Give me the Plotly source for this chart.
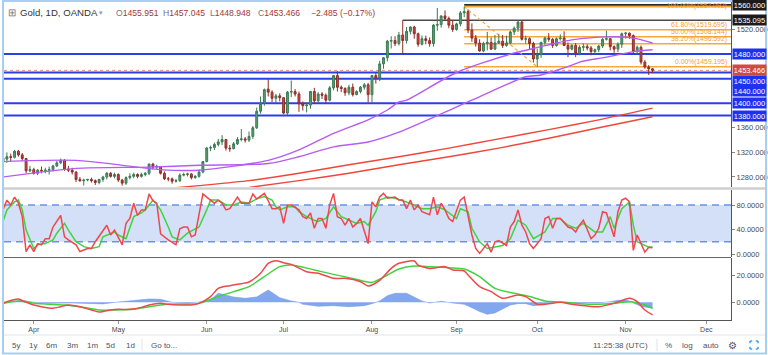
import pandas as pd
import plotly.graph_objects as go

# ---------------- data ----------------
dates = pd.bdate_range("2019-03-20", "2019-11-12")

opens = [1306,1309,1313,1312,1322,1316,1310,1290,1292,1286,
         1291,1290,1291,1292,1298,1303,1307,1293,1291,1288,
         1276,1274,1275,1276,1274,1271,1276,1280,1286,1281,
         1284,1275,1270,1279,1281,1284,1281,1284,1286,1301,
         1296,1297,1286,1277,1277,1273,1274,1283,1284,1285,
         1279,1281,1288,1305,1327,1328,1333,1337,1341,1327,
         1326,1334,1341,1342,1340,1346,1360,1387,1400,1423,
         1418,1408,1412,1409,1384,1418,1419,1415,1399,1396,
         1397,1419,1404,1415,1413,1405,1425,1445,1426,1424,
         1417,1426,1414,1419,1426,1430,1414,1445,1441,1464,
         1474,1501,1502,1497,1511,1502,1517,1524,1513,1496,
         1505,1502,1497,1527,1528,1542,1538,1527,1520,1529,
         1547,1549,1519,1506,1498,1485,1497,1499,1488,1498,
         1501,1494,1498,1516,1522,1532,1504,1505,1497,1472,
         1479,1499,1506,1504,1494,1505,1506,1494,1488,1494,
         1481,1491,1492,1490,1484,1487,1493,1504,1505,1492,
         1488,1496,1513,1514,1510,1484,1491,1467,1459,1455.951]
highs = [1312,1320,1318,1324,1324,1319,1311,1298,1295,1293,
         1297,1295,1297,1300,1306,1310,1309,1298,1295,1289,
         1280,1277,1277,1279,1276,1277,1282,1288,1288,1287,
         1286,1277,1281,1286,1287,1286,1287,1288,1302,1303,
         1300,1298,1289,1280,1279,1277,1286,1287,1287,1286,
         1283,1292,1306,1329,1331,1336,1342,1348,1342,1332,
         1337,1345,1358,1345,1354,1363,1393,1411,1424,1439,
         1421,1415,1416,1410,1420,1437,1423,1419,1403,1402,
         1420,1425,1418,1418,1416,1428,1446,1452,1429,1426,
         1430,1432,1421,1428,1433,1433,1446,1449,1469,1475,
         1503,1509,1509,1516,1535,1524,1525,1526,1515,1510,
         1510,1507,1529,1555,1543,1551,1541,1535,1531,1550,
         1557.09,1553,1530,1511,1504,1500,1516,1507,1511,1513,
         1511,1510,1518,1525,1535,1534,1510,1507,1500,1489,
         1500,1508,1514,1506,1507,1512,1517,1499,1496,1498,
         1494,1497,1496,1493,1489,1495,1506,1518,1506,1494,
         1499,1515,1516,1515,1512,1494,1494,1470,1462,1457.045]
lows = [1301,1303,1305,1310,1313,1306,1286,1288,1284,1283,
        1286,1286,1284,1289,1296,1301,1290,1288,1284,1272,
        1272,1266,1273,1271,1267,1268,1272,1276,1279,1278,
        1272,1266,1267,1276,1278,1278,1279,1281,1283,1292,
        1292,1284,1275,1273,1269,1271,1272,1281,1281,1276,
        1277,1279,1286,1304,1322,1324,1330,1332,1323,1321,
        1325,1332,1338,1336,1337,1342,1358,1383,1396,1411,
        1402,1400,1403,1382,1381,1410,1411,1386,1388,1385,
        1391,1400,1401,1407,1400,1403,1421,1419,1418,1412,
        1413,1411,1413,1416,1422,1401,1400,1432,1436,1456,
        1468,1489,1493,1494,1480,1497,1512,1505,1492,1494,
        1496,1492,1492,1518,1523,1535,1522,1516,1518,1525,
        1540,1514,1500,1492,1484,1483,1486,1487,1487,1497,
        1490,1492,1496,1511,1516,1502,1497,1487,1466,1459.195,
        1474,1495,1500,1490,1492,1502,1493,1475,1486,1475,
        1478,1485,1486,1478,1480,1483,1490,1502,1486,1482,
        1483,1490,1505,1505,1480,1479,1463,1456,1446,1448.948]
closes = [1311,1313,1312,1322,1316,1310,1290,1292,1286,1291,
          1290,1291,1292,1298,1303,1307,1293,1291,1288,1276,
          1274,1275,1276,1274,1271,1276,1280,1286,1281,1284,
          1275,1270,1279,1281,1284,1281,1284,1286,1301,1296,
          1297,1286,1277,1277,1273,1274,1283,1284,1285,1279,
          1281,1288,1305,1327,1328,1333,1337,1341,1327,1326,
          1334,1341,1342,1340,1346,1360,1387,1400,1422,1418,
          1408,1412,1409,1384,1418,1419,1415,1399,1396,1397,
          1419,1404,1415,1413,1405,1425,1445,1426,1424,1417,
          1426,1414,1419,1426,1430,1414,1445,1441,1464,1474,
          1501,1502,1497,1511,1502,1517,1524,1513,1496,1505,
          1502,1497,1527,1528,1542,1538,1527,1520,1529,1547,
          1549,1519,1506,1498,1485,1497,1499,1488,1498,1501,
          1494,1498,1516,1522,1532,1504,1505,1497,1472,1479,
          1499,1506,1504,1494,1505,1506,1494,1488,1494,1481,
          1491,1492,1490,1484,1487,1493,1504,1505,1492,1488,
          1496,1513,1514,1510,1484,1491,1467,1459,1456,1453.466]

# moving averages (bar index -> value)
ma_fast_idx = [0, 19, 41, 51, 69, 77, 86, 95, 100, 103, 105, 118, 132, 140, 144, 148, 157, 164, 169]
ma_fast_val = [1305, 1307, 1292, 1291, 1307, 1324, 1351, 1373, 1389, 1402, 1405, 1450, 1480, 1492, 1498, 1503, 1508, 1506, 1498]
ma_slow_idx = [0, 19, 38, 51, 69, 77, 86, 95, 103, 122, 136, 140, 148, 150, 157, 164, 169]
ma_slow_val = [1280, 1294, 1296, 1299, 1302, 1313, 1329, 1337, 1353, 1405, 1443, 1446, 1462, 1467, 1475, 1484, 1487]
red_a_idx = [44, 51, 64, 77, 90, 103, 116, 129, 142, 155, 169]
red_a_val = [1262, 1266, 1274, 1286, 1300, 1313, 1327, 1342, 1357, 1373, 1392]
red_b_idx = [64, 77, 90, 103, 116, 129, 142, 155, 169]
red_b_val = [1263, 1274, 1286, 1300, 1313, 1327, 1343, 1360, 1378]

# stochastic
stoch_k_idx = [0,1,2,3,4,5,6,7,8,9,10,11,12,13,15,16,17,19,20,22,23,24,27,28,29,30,31,32,33,34,35,36,37,38,39,40,41,43,45,46,47,48,49,50,52,53,55,56,57,58,59,61,62,64,65,66,68,69,70,71,
               72,73,74,75,77,78,79,80,81,82,83,84,85,86,87,88,89,90,91,92,93,95,96,97,98,99,100,102,103,104,105,106,107,108,109,111,112,113,114,115,116,117,119,120,121,122,123,124,126,127,128,129,131,132,133,134,135,136,137,138,140,141,142,143,144,145,147,148,149,150,151,153,154,155,156,157,159,160,161,162,163,164,165,166,167,168,169]
stoch_k = [72,88,80,93,83,61,4,15,4,17,15,25,25,44,63,28,23,15,4,9,9,20,47,31,39,28,15,50,58,83,63,72,72,98,87,83,33,23,15,41,44,44,28,31,98,93,83,88,83,72,74,93,83,83,98,90,99,87,74,74,
           77,50,80,80,72,61,58,67,42,58,58,42,80,99,61,58,47,58,44,50,58,17,85,77,93,99,91,93,88,88,74,88,72,80,69,64,93,64,83,72,58,53,88,93,61,31,9,1,17,3,20,22,14,44,53,72,47,36,17,9,25,58,61,42,58,58,44,42,36,47,55,25,31,42,69,67,28,69,88,91,85,6,31,17,3,11,10]
stoch_d_idx = [0,1,3,4,5,6,8,9,11,13,14,16,17,19,21,23,25,26,29,30,32,33,34,36,37,39,41,43,44,46,48,50,51,53,54,56,58,60,62,64,66,68,70,71,
               72,74,76,77,79,81,82,84,86,88,90,92,94,95,97,98,100,102,105,107,109,111,113,115,118,119,121,122,124,126,128,130,132,134,136,138,141,143,145,147,149,151,154,156,158,159,161,163,164,165,167,168,169]
stoch_d = [53,72,85,88,72,39,9,15,17,23,34,50,39,20,12,9,12,28,36,31,25,44,61,67,72,88,72,44,28,23,34,41,44,72,88,88,80,80,85,83,90,94,88,77,
           72,77,77,69,61,55,53,58,77,61,55,50,53,47,69,88,93,91,85,80,74,74,77,72,58,74,69,42,20,9,11,14,25,55,47,25,36,58,58,47,42,50,36,36,61,42,74,85,47,20,14,11,12]

# MACD
macd_idx = [0,1,4,5,8,10,13,15,17,20,23,25,28,30,33,36,38,41,43,46,49,51,54,56,59,62,64,67,69,71,73,75,79,82,86,89,93,95,98,101,103,107,108,111,115,117,120,121,124,127,130,134,136,139,141,145,148,152,155,159,163,165,167,169]
macd_val = [-0.8,0.5,2.5,1.3,-2,-3.3,-4.5,-3.3,-2,-3.3,-5.8,-7.3,-5.8,-5.3,-5.3,-3.8,-2,-0.8,-1.5,-2,-2,-0.8,4.3,10.5,12.5,14,15.3,21.8,29.3,31.3,29.8,28.5,23,21.8,18,18,15.5,12.3,16.5,25.5,29.3,31,28,25.5,26.8,24.3,23.5,20.5,11.8,8,3,5.5,4.3,-1.5,-1.5,0,-1.5,-2.8,-3.3,-0.8,3,0.5,-5.8,-9.5]
signal_idx = [0,4,7,11,16,20,25,29,34,38,43,47,51,56,60,64,68,72,75,81,86,91,96,100,103,107,111,116,120,124,128,133,137,141,146,150,155,159,163,167,169]
signal_val = [-0.8,1,-0.3,-1.3,-2,-3.3,-5.8,-5.8,-5.3,-3.3,-1.5,-1.3,-0.8,4.3,8,11.8,19.3,26.8,28,24.3,21,18,15,20.5,25,27.3,26.8,26,25,19.3,10.5,6.8,4.3,1,0,-1,-1.5,-0.8,0.5,-2,-4.5]
hist_idx = [0,3,5,8,12,18,22,26,30,34,38,41,44,48,51,54,56,60,63,66,69,72,75,77,78,82,86,90,94,96,98,100,102,105,107,109,111,114,117,120,122,124,126,128,130,132,134,136,138,140,142,145,150,155,158,160,162,163,164,166,168,169]
hist_val = [0,1,1.5,0,-0.8,-0.5,-1,-1.2,0.3,1.5,2.5,2.3,0,-0.5,0.2,2,6.8,4,3,4,9.3,3.5,1,0,-1.5,-3,-2.5,-3.3,-2.5,-1,1,5,6.8,6.8,4,1,-0.5,0.8,-0.5,-1.5,-4,-7,-9,-8,-5,-2,-1,-1,-2.5,-2,-0.5,0.3,-0.3,-0.5,0.5,1.5,1.8,1,-0.5,-3,-4,-4.5]

# drawing-tool levels
blue_levels = [1480, 1450, 1440, 1400, 1380]
black_levels = [1560, 1535.095]
black_start = ["2019-09-04", "2019-08-13"]
fib_pct = ["0.00%", "38.20%", "50.00%", "61.80%", "100.00%"]
fib_price = [1459.195, 1496.592, 1508.144, 1519.695, 1557.092]
fib_start = "2019-09-04"
fib_low_date = "2019-10-01"
last_price = 1453.466
month_ticks = ["2019-04-01", "2019-05-01", "2019-06-03", "2019-07-01", "2019-08-01",
               "2019-09-02", "2019-10-01", "2019-11-01", "2019-12-02"]
month_text = ["Apr", "May", "Jun", "Jul", "Aug", "Sep", "Oct", "Nov", "Dec"]

# ---------------- layout geometry ----------------
W, H = 768, 355
L, R, T, B = 4, 37, 2, 35
PW, PH = W - L - R, H - T - B
def fx(px):
    return (px - L) / PW
def fy(py):
    return (H - B - py) / PH

X_RANGE = ["2019-03-20 06:00", "2019-12-10 10:00"]
FONT = "Liberation Sans, Arial, sans-serif"
GREEN = "#3fd43f"
RED = "#f0474d"

fig = go.Figure()

fig.add_trace(go.Candlestick(
    x=dates, open=opens, high=highs, low=lows, close=closes,
    increasing=dict(line=dict(color="#3b7a53", width=1), fillcolor="#58a273"),
    decreasing=dict(line=dict(color="#8f2c25", width=1), fillcolor="#cc4a40"),
    whiskerwidth=0, hoverinfo="skip", showlegend=False, xaxis="x", yaxis="y"))

def line_trace(idx, vals, color, width, axis_x, axis_y, spline=True):
    return go.Scatter(x=dates[idx], y=vals, mode="lines",
                      line=dict(color=color, width=width,
                                shape="spline" if spline else "linear", smoothing=0.7),
                      hoverinfo="skip", showlegend=False, xaxis=axis_x, yaxis=axis_y)

fig.add_trace(line_trace(ma_slow_idx, ma_slow_val, "#b65cf2", 1.4, "x", "y"))
fig.add_trace(line_trace(ma_fast_idx, ma_fast_val, "#b65cf2", 1.4, "x", "y"))
fig.add_trace(line_trace(red_a_idx, red_a_val, "#f2453c", 1.4, "x", "y"))
fig.add_trace(line_trace(red_b_idx, red_b_val, "#f2453c", 1.4, "x", "y"))

# stochastic
fig.add_trace(line_trace(stoch_d_idx, stoch_d, GREEN, 1.5, "x2", "y2", spline=False))
fig.add_trace(line_trace(stoch_k_idx, stoch_k, RED, 1.5, "x2", "y2", spline=False))

# MACD
fig.add_trace(go.Scatter(x=dates[hist_idx], y=hist_val, mode="lines", fill="tozeroy",
                         fillcolor="rgba(100,145,232,0.8)", line=dict(color="rgba(100,145,232,0.9)", width=0.5),
                         hoverinfo="skip", showlegend=False, xaxis="x3", yaxis="y3"))
fig.add_trace(line_trace(signal_idx, signal_val, GREEN, 1.5, "x3", "y3"))
fig.add_trace(line_trace(macd_idx, macd_val, RED, 1.5, "x3", "y3"))

shapes = []
# stochastic band
shapes.append(dict(type="rect", xref="paper", yref="y2", x0=0, x1=1, y0=20, y1=80,
                   fillcolor="#d3e0f7", line=dict(width=0), layer="below"))
for lv in (20, 80):
    shapes.append(dict(type="line", xref="paper", yref="y2", x0=0, x1=1, y0=lv, y1=lv,
                       line=dict(color="#6a93e6", width=1.3, dash="7px,5px"), layer="below"))
# horizontal blue levels
for lv in blue_levels:
    shapes.append(dict(type="line", xref="paper", yref="y", x0=0, x1=1, y0=lv, y1=lv,
                       line=dict(color="#2c3ee6", width=2), layer="below"))
# black / dark levels
for lv, st, col in zip(black_levels, black_start, ["#2a2a2a", "#4a4a4a"]):
    shapes.append(dict(type="line", xref="x", yref="y", x0=st, x1=X_RANGE[1], y0=lv, y1=lv,
                       line=dict(color=col, width=1.6), layer="below"))
# fib levels
for p in fib_price:
    shapes.append(dict(type="line", xref="x", yref="y", x0=fib_start, x1=X_RANGE[1], y0=p, y1=p,
                       line=dict(color="#f8a73c", width=1.5), layer="below"))
shapes.append(dict(type="line", xref="x", yref="y", x0=fib_start, x1=fib_low_date,
                   y0=fib_price[-1], y1=fib_price[0],
                   line=dict(color="#f8a73c", width=1.2, dash="3px,3px"), layer="below"))
# last price line
shapes.append(dict(type="line", xref="paper", yref="y", x0=0, x1=1, y0=last_price, y1=last_price,
                   line=dict(color="#e88a8a", width=1, dash="dot"), layer="below"))
# pane separators
shapes.append(dict(type="line", xref="paper", yref="paper", x0=0, x1=fx(765), y0=fy(188.5), y1=fy(188.5),
                   line=dict(color="#cfcfcf", width=2.5)))
shapes.append(dict(type="line", xref="paper", yref="paper", x0=0, x1=1, y0=fy(257.5), y1=fy(257.5),
                   line=dict(color="#666666", width=1)))
# toolbar separator and frame
shapes.append(dict(type="line", xref="paper", yref="paper", x0=0, x1=fx(765), y0=fy(335), y1=fy(335),
                   line=dict(color="#e0e3eb", width=1)))
for xp in (142, 657):
    shapes.append(dict(type="line", xref="paper", yref="paper", x0=fx(xp), x1=fx(xp), y0=fy(339), y1=fy(351),
                       line=dict(color="#e0e3eb", width=1)))
shapes.append(dict(type="rect", xref="paper", yref="paper", x0=fx(3), x1=fx(766), y0=fy(353.5), y1=fy(1),
                   line=dict(color="#a8cff3", width=2)))
# fullscreen icon corners
cx, cy, s, a = 754, 345, 4, 2.2
for sx in (-1, 1):
    for sy in (-1, 1):
        x0, y0 = cx + sx * s, cy + sy * s
        shapes.append(dict(type="line", xref="paper", yref="paper", x0=fx(x0), x1=fx(x0 - sx * a),
                           y0=fy(y0), y1=fy(y0), line=dict(color="#2196f3", width=1.3)))
        shapes.append(dict(type="line", xref="paper", yref="paper", x0=fx(x0), x1=fx(x0),
                           y0=fy(y0), y1=fy(y0 - sy * a), line=dict(color="#2196f3", width=1.3)))

ann = []
def label_box(value, bg, yshift=0):
    ann.append(dict(xref="paper", yref="y", x=1, y=value, xanchor="left", yanchor="middle",
                    xshift=1, yshift=yshift, text=f"{value:.3f}", showarrow=False,
                    bgcolor=bg, width=33, height=10, borderpad=0, align="center",
                    font=dict(family=FONT, size=7.5, color="white")))
label_box(1560, "#1b1b1b")
label_box(1535.095, "#1b1b1b")
label_box(1480, "#1d32f0")
label_box(last_price, "#d2493f")
label_box(1450, "#1d32f0", yshift=-8)
label_box(1440, "#1d32f0", yshift=-12.5)
label_box(1400, "#1d32f0")
label_box(1380, "#1d32f0")

for pct, p in zip(fib_pct, fib_price):
    top = pct == "100.00%"
    ann.append(dict(xref="paper", yref="y", x=1, y=p, xanchor="right",
                    yanchor="middle" if top else "bottom",
                    xshift=-3, yshift=1 if top else -0.5, text=f"{pct}({p:.3f})", showarrow=False,
                    borderpad=0, font=dict(family=FONT, size=6.8, color="#f5a033")))

# header
def txt(px, py, text, size, color, anchor="left"):
    ann.append(dict(xref="paper", yref="paper", x=fx(px), y=fy(py), xanchor=anchor, yanchor="middle",
                    text=text, showarrow=False, font=dict(family=FONT, size=size, color=color)))
txt(6, 13, "⊞", 10, "#777777")
txt(18, 13, "Gold, 1D, OANDA", 9.6, "#333333")
txt(97, 13, "▾", 7, "#999999")
VAL = "#a13838"
for px, letter, val in [(114, "O", "1455.951"), (161, "H", "1457.045"), (208, "L", "1448.948"), (256, "C", "1453.466")]:
    ann.append(dict(xref="paper", yref="paper", x=fx(px), y=fy(13), xanchor="left", yanchor="middle",
                    text=f"<span style='color:#777777'>{letter}</span>{val}", showarrow=False,
                    font=dict(family=FONT, size=8.6, color=VAL)))
txt(309, 13, "−2.485 (−0.17%)", 8.6, VAL)

# toolbar
for px, t in [(16, "5y"), (33, "1y"), (51, "6m"), (72, "3m"), (92, "1m"), (111, "5d"), (130, "1d"),
              (164, "Go to..."), (620, "11:25:38 (UTC)"), (668, "%"), (687, "log"), (711, "auto")]:
    txt(px, 345.5, t, 8, "#50535e", anchor="center")
txt(733, 345, "⚙", 10, "#50535e", anchor="center")

yax = dict(side="right", showgrid=False, zeroline=False, showline=True, linecolor="#555555",
           linewidth=1, ticks="outside", ticklen=3, tickcolor="#888888",
           tickfont=dict(family=FONT, size=7.5, color="#4a4a4a"), fixedrange=True)
xax = dict(range=X_RANGE, rangebreaks=[dict(bounds=["sat", "mon"])], showgrid=False,
           zeroline=False, fixedrange=True, rangeslider=dict(visible=False))

fig.update_layout(
    width=W, height=H, margin=dict(l=L, r=R, t=T, b=B, autoexpand=False),
    paper_bgcolor="white", plot_bgcolor="white", hovermode=False,
    font=dict(family=FONT),
    xaxis=dict(**xax, domain=[0, 1], anchor="y", showticklabels=False, showline=False),
    xaxis2=dict(**xax, domain=[0, 1], anchor="y2", showticklabels=False, showline=False),
    xaxis3=dict(**xax, domain=[0, 1], anchor="y3", showline=True, linecolor="#555555",
                tickvals=month_ticks, ticktext=month_text, ticks="outside", ticklen=3,
                tickcolor="#999999", tickfont=dict(family=FONT, size=7, color="#4a4a4a")),
    yaxis=dict(**yax, domain=[fy(187), 1], range=[1263.7, 1564.7],
               tickvals=[1280, 1320, 1360, 1520], tickformat=".3f"),
    yaxis2=dict(**yax, domain=[fy(257), fy(190)], range=[-4.9, 104.5],
                tickvals=[0, 40, 80], tickformat=".4f"),
    yaxis3=dict(**yax, domain=[0, fy(258)], range=[-13.3, 33.3],
                tickvals=[0, 20], tickformat=".4f"),
    shapes=shapes, annotations=ann,
)

fig.write_html("out.html", config={"displayModeBar": False, "staticPlot": True},
               post_script="document.body.style.margin='0';document.body.style.overflow='hidden';")
